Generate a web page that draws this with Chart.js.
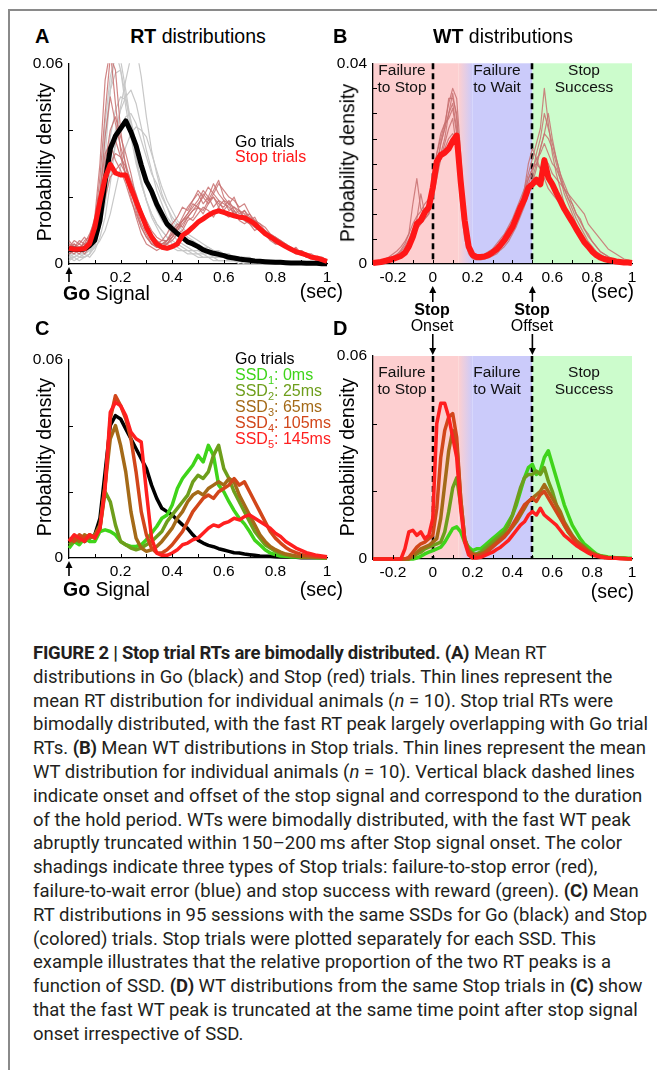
<!DOCTYPE html>
<html lang="en">
<head>
<meta charset="UTF-8">
<title>Figure 2 | Stop trial RTs are bimodally distributed</title>
<script src="https://cdn.jsdelivr.net/npm/chart.js"></script>
<style>
  body { margin: 0; background: #fff; width: 657px; height: 1070px; overflow: hidden; position: relative;
         font-family: "Liberation Sans", Arial, sans-serif; color: #000; }
  .frame-top { position: absolute; left: 8px; top: 9px; width: 649px; height: 2px; background: #8a8a8a; }
  .frame-left { position: absolute; left: 8px; top: 9px; width: 2px; height: 1061px; background: #8a8a8a; }
  canvas { position: absolute; }
  .t { position: absolute; white-space: nowrap; line-height: 1; font-size: 16px; }
  .c { transform: translate(-50%, -50%); text-align: center; }
  .l { transform: translate(0, -50%); }
  .r { transform: translate(-100%, -50%); }
  .v { transform: translate(-50%, -50%) rotate(-90deg); font-size: 19.5px; }
  .bold { font-weight: bold; }
  .zone { font-size: 15.5px; line-height: 17px; color: #111; }
  .stoplbl { font-size: 16px; line-height: 16px; }
  sub { font-size: 11px; line-height: 0; }
  .caption { position: absolute; left: 33px; top: 642px; font-family: Roboto, "Liberation Sans", sans-serif;
             font-size: 18.5px; line-height: 23.8px; color: #231f20; white-space: nowrap; }
  .caption b { font-weight: bold; letter-spacing: -0.25px; }
</style>
</head>
<body>
  <div class="frame-top"></div>
  <div class="frame-left"></div>

  <canvas id="chartA" width="330" height="262" style="left:14px;top:48px"></canvas>
  <canvas id="chartB" width="335" height="258" style="left:318px;top:48px"></canvas>
  <canvas id="chartC" width="330" height="262" style="left:14px;top:344px"></canvas>
  <canvas id="chartD" width="335" height="270" style="left:318px;top:318px"></canvas>

  <!-- panel A -->
  <div class="t l bold" style="left:35px;top:36px;font-size:20px">A</div>
  <div class="t c" style="left:198px;top:37px;font-size:19.5px"><b>RT</b> distributions</div>
  <div class="t v" style="left:45px;top:162px">Probability density</div>
  <div class="t l" style="left:235px;top:142px">Go trials</div>
  <div class="t l" style="left:235px;top:157px;color:#ff1717">Stop trials</div>
  <div class="t l" style="left:63px;top:294px;font-size:19.5px"><b>Go</b> Signal</div>
  <div class="t r" style="left:343px;top:292px;font-size:19.5px">(sec)</div>

  <!-- panel B -->
  <div class="t l bold" style="left:333px;top:36px;font-size:20px">B</div>
  <div class="t c" style="left:503px;top:37px;font-size:19.5px"><b>WT</b> distributions</div>
  <div class="t v" style="left:348px;top:163px">Probability density</div>
  <div class="t c zone" style="left:402px;top:78px">Failure<br>to Stop</div>
  <div class="t c zone" style="left:497px;top:78px">Failure<br>to Wait</div>
  <div class="t c zone" style="left:584px;top:78px">Stop<br>Success</div>
  <div class="t r" style="left:634px;top:292px;font-size:19.5px">(sec)</div>
  <div class="t c stoplbl" style="left:432px;top:318px"><b>Stop</b><br>Onset</div>
  <div class="t c stoplbl" style="left:532px;top:318px"><b>Stop</b><br>Offset</div>

  <!-- panel C -->
  <div class="t l bold" style="left:35px;top:328px;font-size:20px">C</div>
  <div class="t v" style="left:45px;top:457px">Probability density</div>
  <div class="t l" style="left:235px;top:359px">Go trials</div>
  <div class="t l" style="left:235px;top:375px;color:#3fd41a">SSD<sub>1</sub>: 0ms</div>
  <div class="t l" style="left:235px;top:391px;color:#6e9e1c">SSD<sub>2</sub>: 25ms</div>
  <div class="t l" style="left:235px;top:407px;color:#a46a18">SSD<sub>3</sub>: 65ms</div>
  <div class="t l" style="left:235px;top:423px;color:#d2461a">SSD<sub>4</sub>: 105ms</div>
  <div class="t l" style="left:235px;top:439px;color:#ff1f1f">SSD<sub>5</sub>: 145ms</div>
  <div class="t l" style="left:63px;top:590px;font-size:19.5px"><b>Go</b> Signal</div>
  <div class="t r" style="left:343px;top:590px;font-size:19.5px">(sec)</div>

  <!-- panel D -->
  <div class="t l bold" style="left:333px;top:328px;font-size:20px">D</div>
  <div class="t v" style="left:348px;top:457px">Probability density</div>
  <div class="t c zone" style="left:402px;top:380px">Failure<br>to Stop</div>
  <div class="t c zone" style="left:497px;top:380px">Failure<br>to Wait</div>
  <div class="t c zone" style="left:584px;top:380px">Stop<br>Success</div>
  <div class="t r" style="left:634px;top:592px;font-size:19.5px">(sec)</div>

  <div class="caption">
    <b>FIGURE 2 | Stop trial RTs are bimodally distributed. (A)</b> Mean RT<br>
    distributions in Go (black) and Stop (red) trials. Thin lines represent the<br>
    mean RT distribution for individual animals (<i>n</i> = 10). Stop trial RTs were<br>
    bimodally distributed, with the fast RT peak largely overlapping with Go trial<br>
    RTs. <b>(B)</b> Mean WT distributions in Stop trials. Thin lines represent the mean<br>
    WT distribution for individual animals (<i>n</i> = 10). Vertical black dashed lines<br>
    indicate onset and offset of the stop signal and correspond to the duration<br>
    of the hold period. WTs were bimodally distributed, with the fast WT peak<br>
    abruptly truncated within 150–200&#8201;ms after Stop signal onset. The color<br>
    shadings indicate three types of Stop trials: failure-to-stop error (red),<br>
    failure-to-wait error (blue) and stop success with reward (green). <b>(C)</b> Mean<br>
    RT distributions in 95 sessions with the same SSDs for Go (black) and Stop<br>
    (colored) trials. Stop trials were plotted separately for each SSD. This<br>
    example illustrates that the relative proportion of the two RT peaks is a<br>
    function of SSD. <b>(D)</b> WT distributions from the same Stop trials in <b>(C)</b> show<br>
    that the fast WT peak is truncated at the same time point after stop signal<br>
    onset irrespective of SSD.
  </div>

<script>
// time bins (sec). RT = from Go signal, WT = from Stop signal onset
const tRT = [0, 0.02, 0.04, 0.06, 0.08, 0.1, 0.12, 0.14, 0.16, 0.18,
  0.2, 0.22, 0.24, 0.26, 0.28, 0.3, 0.32, 0.34, 0.36, 0.38,
  0.4, 0.42, 0.44, 0.46, 0.48, 0.5, 0.52, 0.54, 0.56, 0.58,
  0.6, 0.62, 0.64, 0.66, 0.68, 0.7, 0.72, 0.74, 0.76, 0.78,
  0.8, 0.82, 0.84, 0.86, 0.88, 0.9, 0.92, 0.94, 0.96, 0.98, 1];
const tWT = [-0.3, -0.28, -0.26, -0.24, -0.22, -0.2, -0.18, -0.16, -0.14, -0.12,
  -0.1, -0.08, -0.06, -0.04, -0.02, 0, 0.02, 0.04, 0.06, 0.08,
  0.1, 0.12, 0.14, 0.16, 0.18, 0.2, 0.22, 0.24, 0.26, 0.28,
  0.3, 0.32, 0.34, 0.36, 0.38, 0.4, 0.42, 0.44, 0.46, 0.48,
  0.5, 0.52, 0.54, 0.56, 0.58, 0.6, 0.62, 0.64, 0.66, 0.68,
  0.7, 0.72, 0.74, 0.76, 0.78, 0.8, 0.82, 0.84, 0.86, 0.88,
  0.9, 0.92, 0.94, 0.96, 0.98, 1];

// probability density, all in units of 1e-3

// A: mean RT, Go and Stop trials
const goMeanA = [4.4, 4.4, 4.3, 4.5, 5.5, 7.1, 13, 24.7, 34.4, 38.3,
  40.5, 42.8, 39.5, 35.4, 29.6, 24.7, 21.8, 17.9, 14.9, 12.0,
  10.5, 9.1, 7.9, 6.6, 6.0, 5.2, 4.2, 3.7, 3.2, 2.9,
  2.5, 2.0, 1.8, 1.5, 1.3, 1.1, 0.9, 0.8, 0.7, 0.6,
  0.5, 0.5, 0.4, 0.3, 0.3, 0.3, 0.2, 0.2, 0.2, 0.1, 0.1];
const stopMeanA = [4.7, 4.4, 4.4, 4.6, 6.1, 11, 18.8, 25.7, 29.8, 27.2,
  26.6, 26.6, 22.7, 18.8, 14.9, 11, 8.1, 6, 5, 4.7,
  5.2, 6, 8.6, 9.6, 11, 12.5, 13.5, 14.6, 15.4, 15.9,
  15.4, 14.9, 14.4, 14, 13.8, 13, 12, 10.5, 9.1, 8.1,
  7.1, 6.1, 5.2, 4.4, 3.7, 3.2, 2.7, 2.0, 1.8, 1.3, 0.8];

// A: individual animals, Go trials
const goAnimal1 = [3, 2, 3, 2, 3, 6, 15, 32, 52, 64, 58, 47, 38, 30, 24, 19, 15, 12, 10, 8,
  7, 6, 5, 4, 4, 3, 3, 2, 2, 2, 2, 1, 1, 1, 1, 1, 1, 0, 1, 0, 0, 0, 0, 0, 0, 0, 0, 0, 0, 0, 0];
const goAnimal2 = [2, 2, 3, 3, 2, 4, 8, 14, 24, 36, 47, 55, 62, 65, 56, 44, 34, 27, 21, 17,
  13, 11, 9, 7, 6, 5, 4, 4, 3, 3, 2, 2, 2, 1, 1, 1, 1, 1, 1, 0, 0, 0, 0, 0, 0, 0, 0, 0, 0, 0, 0];
const goAnimal3 = [1, 2, 1, 2, 3, 5, 12, 24, 38, 46, 50, 49, 43, 36, 30, 25, 20, 16, 13, 11,
  9, 7, 6, 5, 4, 4, 3, 3, 2, 2, 2, 2, 1, 1, 1, 1, 0, 1, 0, 0, 0, 0, 0, 0, 0, 0, 0, 0, 0, 0, 0];
const goAnimal4 = [3, 4, 3, 4, 5, 7, 11, 18, 28, 36, 41, 44, 45, 42, 37, 32, 27, 24, 20, 17,
  14, 12, 10, 8, 7, 6, 5, 5, 4, 3, 3, 3, 2, 2, 2, 1, 1, 1, 1, 1, 1, 0, 0, 0, 0, 0, 0, 0, 0, 0, 0];
const goAnimal5 = [2, 1, 2, 2, 3, 8, 20, 38, 52, 57, 58, 50, 40, 31, 24, 19, 15, 12, 10, 8,
  6, 5, 4, 4, 3, 3, 2, 2, 2, 1, 1, 1, 1, 1, 0, 0, 0, 0, 0, 0, 0, 0, 0, 0, 0, 0, 0, 0, 0, 0, 0];
const goAnimal6 = [4, 5, 4, 5, 4, 5, 7, 10, 15, 22, 29, 35, 39, 41, 40, 38, 33, 28, 23, 19,
  16, 13, 11, 9, 8, 7, 6, 5, 4, 4, 3, 3, 2, 2, 2, 2, 1, 1, 1, 1, 1, 1, 0, 0, 0, 0, 0, 0, 0, 0, 0];
const goAnimal7 = [2, 3, 2, 3, 4, 9, 22, 42, 56, 62, 61, 52, 42, 32, 25, 19, 14, 11, 8, 6,
  5, 4, 4, 3, 3, 2, 2, 2, 1, 1, 1, 1, 1, 0, 0, 0, 0, 0, 0, 0, 0, 0, 0, 0, 0, 0, 0, 0, 0, 0, 0];
const goAnimal8 = [3, 3, 4, 3, 4, 6, 11, 20, 31, 40, 46, 50, 52, 48, 41, 34, 28, 22, 18, 14,
  12, 10, 8, 7, 6, 5, 4, 4, 3, 3, 2, 2, 2, 1, 1, 1, 1, 1, 0, 0, 0, 0, 0, 0, 0, 0, 0, 0, 0, 0, 0];

// A: individual animals, Stop trials
const stopAnimal1 = [5, 6, 4, 7, 8, 14, 30, 55, 64, 48, 34, 26, 20, 14, 9, 6, 5, 4, 5, 7,
  9, 11, 13, 14, 16, 17, 15, 18, 20, 17, 19, 16, 17, 15, 16, 14, 13, 12, 10, 9, 8, 7, 6, 5, 4, 4, 3, 3, 2, 2, 1];
const stopAnimal2 = [3, 4, 5, 3, 5, 9, 18, 30, 40, 44, 38, 33, 27, 20, 14, 10, 7, 5, 5, 6,
  8, 10, 13, 15, 17, 19, 22, 20, 24, 21, 19, 18, 20, 16, 15, 13, 14, 11, 10, 8, 7, 6, 5, 5, 4, 3, 3, 2, 2, 1, 1];
const stopAnimal3 = [6, 5, 7, 6, 9, 13, 22, 33, 36, 31, 28, 24, 19, 15, 11, 8, 6, 6, 7, 9,
  12, 14, 17, 16, 19, 21, 18, 20, 17, 19, 16, 18, 15, 16, 13, 12, 11, 10, 9, 8, 7, 6, 6, 4, 5, 3, 3, 2, 2, 2, 1];
const stopAnimal4 = [4, 6, 5, 6, 7, 10, 16, 24, 30, 33, 32, 29, 25, 21, 16, 12, 9, 7, 6, 6,
  7, 9, 10, 13, 14, 17, 16, 19, 22, 25, 20, 18, 17, 16, 14, 15, 12, 11, 9, 8, 8, 6, 5, 5, 4, 4, 3, 2, 2, 1, 1];
const stopAnimal5 = [7, 5, 6, 8, 6, 12, 26, 45, 62, 58, 40, 29, 22, 16, 11, 8, 6, 5, 6, 7,
  10, 12, 11, 14, 13, 15, 17, 16, 14, 17, 15, 14, 16, 13, 12, 13, 11, 10, 9, 7, 6, 6, 5, 4, 3, 3, 2, 2, 1, 1, 1];
const stopAnimal6 = [3, 4, 3, 5, 6, 8, 14, 20, 26, 28, 30, 27, 24, 20, 16, 13, 10, 8, 7, 7,
  8, 10, 12, 14, 16, 18, 20, 23, 21, 24, 22, 20, 19, 17, 18, 15, 13, 12, 11, 9, 8, 7, 6, 5, 4, 4, 3, 2, 2, 2, 1];
const stopAnimal7 = [5, 7, 6, 5, 8, 12, 20, 38, 50, 42, 35, 30, 24, 17, 12, 9, 6, 5, 5, 6,
  8, 11, 14, 17, 19, 22, 20, 18, 21, 19, 18, 17, 15, 14, 16, 13, 12, 10, 9, 8, 7, 6, 5, 4, 4, 3, 2, 2, 2, 1, 1];
const stopAnimal8 = [4, 3, 5, 6, 5, 9, 16, 27, 34, 37, 32, 27, 22, 18, 14, 11, 8, 6, 6, 7,
  9, 11, 13, 15, 18, 17, 21, 19, 20, 18, 17, 19, 16, 14, 13, 12, 10, 11, 9, 8, 6, 6, 5, 4, 3, 3, 3, 2, 1, 1, 1];

// B: mean WT, Stop trials
const stopMeanB = [0.2, 0.3, 0.4, 0.6, 0.8, 1.0, 1.3, 1.6, 2.2, 3.5,
  5.4, 8.0, 8.7, 10.3, 11.3, 15.2, 20.4, 21.7, 22.2, 23.0,
  24.5, 25.6, 16.5, 8.7, 3.5, 1.8, 1.4, 1.4, 1.5, 1.8,
  2.3, 2.9, 3.8, 4.8, 6.1, 7.4, 9.3, 11.3, 12.9, 15.2,
  15.9, 16.8, 15.9, 20.7, 17.2, 15.9, 14.2, 12.6, 11.0, 9.7,
  8.4, 7.0, 5.7, 4.4, 3.5, 2.5, 1.8, 1.3, 1.0, 0.8,
  0.7, 0.5, 0.4, 0.3, 0.3, 0.2];

// B: individual animals
const wtAnimal1 = [0, 0, 0.2, 0.3, 0.5, 0.7, 1, 1.3, 1.8, 3,
  5, 9, 14, 10, 11, 14, 19, 24, 27, 30,
  34, 29, 16, 7, 3, 1.5, 1, 1, 1.2, 1.5,
  2, 2.5, 3.2, 4, 5, 6.5, 8, 10, 12, 14,
  17, 20, 23, 26, 30, 25, 21, 18, 15, 13,
  11, 9, 7.5, 6, 4.5, 3.5, 2.5, 2, 1.5, 1,
  0.8, 0.5, 0.4, 0.3, 0.2, 0.2];
const wtAnimal2 = [0.3, 0.2, 0.5, 0.8, 1, 1.5, 2, 2.5, 3.5, 5,
  7, 8, 9, 10, 12, 17, 22, 25, 28, 32,
  35, 33, 22, 10, 4, 2, 1.5, 1.5, 2, 2.5,
  3, 4, 5, 6, 7.5, 9, 11, 13, 15, 18,
  21, 24, 27, 35, 28, 22, 18, 15, 12, 10,
  8, 7, 5.5, 4.5, 3.5, 2.5, 2, 1.5, 1, 1,
  0.8, 0.6, 0.5, 0.4, 0.3, 0.3];
const wtAnimal3 = [0, 0.2, 0.2, 0.4, 0.6, 0.8, 1.2, 1.6, 2.5, 4,
  6, 7, 8, 9, 10, 15, 18, 21, 23, 25,
  26, 24, 18, 9, 4, 1.5, 1, 1, 1.3, 1.8,
  2.5, 3, 4, 5, 6, 7.5, 9, 11, 14, 17,
  19, 21, 22, 24, 22, 20, 19, 17, 15, 13,
  12, 10, 9, 7, 6, 4.5, 3.5, 2.5, 2, 1.5,
  1, 0.8, 0.6, 0.5, 0.4, 0.3];
const wtAnimal4 = [0.2, 0.4, 0.3, 0.6, 0.9, 1.2, 1.7, 2.2, 3, 4.5,
  6.5, 7.5, 9, 11, 12, 16, 22, 26, 28, 29,
  31, 26, 12, 5, 2, 1, 0.8, 0.8, 1, 1.2,
  1.6, 2, 2.8, 3.5, 4.5, 6, 7.5, 9.5, 11.5, 14,
  16, 19, 23, 26, 25, 23, 20, 17, 14, 12,
  10, 8, 6.5, 5, 4, 3, 2.3, 1.7, 1.2, 0.9,
  0.7, 0.5, 0.4, 0.3, 0.2, 0.2];
const wtAnimal5 = [0.4, 0.6, 0.8, 1, 1.4, 2, 2.6, 3.4, 4.5, 6,
  8, 9.5, 10.5, 12, 13, 16, 20, 24, 27, 33,
  33, 30, 20, 9, 4, 2, 1.5, 1.4, 1.6, 2,
  2.5, 3.2, 4, 5, 6.5, 8, 10, 12, 14.5, 17,
  19, 20, 19, 21, 20, 18, 17, 16, 15, 14,
  13, 12, 11, 10, 8, 7, 6, 5, 4, 3,
  2.5, 2, 1.5, 1, 0.8, 0.6];
const wtAnimal6 = [0, 0.1, 0.3, 0.5, 0.7, 1, 1.4, 1.9, 2.6, 3.8,
  5.5, 7, 8, 9, 10, 13, 17, 21, 24, 27,
  29, 23, 13, 6, 2.5, 1.2, 1, 1, 1.3, 1.7,
  2.2, 3, 3.8, 4.8, 6, 7.5, 9.5, 12, 15, 20,
  23, 21, 19, 17, 15, 14, 13, 12, 11, 9.5,
  8, 6.5, 5, 4, 3, 2.2, 1.6, 1.2, 0.9, 0.6,
  0.5, 0.4, 0.3, 0.2, 0.2, 0.1];
const wtAnimal7 = [0.3, 0.5, 0.4, 0.7, 0.9, 1.3, 1.8, 2.8, 4, 6,
  12, 17, 11, 10, 11, 14, 18, 22, 25, 30,
  32, 27, 15, 7, 3, 1.4, 1, 1.1, 1.4, 1.8,
  2.4, 3, 3.8, 4.8, 6, 7.5, 9, 11, 13, 16,
  18, 22, 25, 30, 27, 24, 21, 18, 16, 14,
  12, 10, 8.5, 7, 5.5, 4.5, 3.5, 2.5, 2, 1.5,
  1.1, 0.8, 0.6, 0.5, 0.4, 0.3];

// C: mean RT in 95 sessions, Go and Stop by SSD
const goMeanC = [5, 5, 5.5, 5, 6, 7, 12, 26, 40, 43,
  42, 39, 36, 33, 30, 27, 22, 18, 15, 14,
  13, 11.5, 10, 8.9, 7, 5.4, 4.5, 3.8, 3.4, 2.8,
  2.4, 2, 1.6, 1.5, 1.2, 1, 0.8, 0.6, 0.5, 0.5,
  0.4, 0.3, 0.3, 0.2, 0.2, 0.1, 0.1, 0.1, 0.1, 0.1, 0.1];
const rtSsd1 = [3, 5, 4, 6, 5, 5, 8, 8.5, 8, 7,
  5, 4, 3.5, 3.5, 4, 5.5, 7.5, 9.5, 12, 13,
  16, 21, 24, 26, 28, 31, 29, 34, 31, 22,
  20, 17, 14.3, 12, 10.3, 8, 5.4, 4, 2.5, 1.5,
  1, 0.6, 0.5, 0.3, 0.3, 0.2, 0.2, 0.2, 0.1, 0.1, 0.1];
const rtSsd2 = [4, 5, 6, 5, 7, 6, 9, 20, 17, 10,
  5, 4, 3, 2.5, 3, 4, 5, 6.5, 8, 11,
  13, 15, 17, 19, 23, 25, 24, 26, 31, 34,
  27, 24, 20, 17, 14, 11, 8, 6, 4, 3,
  2, 1.3, 0.9, 0.6, 0.5, 0.4, 0.3, 0.2, 0.2, 0.1, 0.1];
const rtSsd3 = [5, 6, 5, 7, 6, 7, 10, 22, 36, 40,
  34, 26, 14, 6, 3, 2, 2.5, 3.5, 5, 7,
  9, 12, 14, 17, 19, 20, 19, 21, 22, 23,
  22, 24, 23, 19, 16, 13, 10, 7, 5, 3.5,
  2.5, 1.8, 1.2, 0.9, 0.6, 0.4, 0.3, 0.3, 0.2, 0.2, 0.1];
const rtSsd4 = [6, 5, 7, 6, 7, 6, 9, 22, 42, 49,
  46, 42, 36, 26, 14, 7, 3, 1.5, 1.5, 2.5,
  4, 6, 8, 11, 14, 16, 18, 19, 18, 20,
  21, 22, 24, 22, 23, 20, 17, 14, 11, 8,
  6, 4.5, 3.2, 2.2, 1.6, 1.1, 0.8, 0.6, 0.4, 0.3, 0.2];
const rtSsd5 = [5, 7, 6, 5, 7, 6, 9, 21, 44, 47,
  46, 43, 38, 36, 35, 20, 6, 1.5, 0.8, 0.8,
  1.5, 2.5, 4, 4.5, 5.5, 6, 7.5, 9, 10, 9.5,
  10.5, 11, 12, 11.5, 12.5, 13, 12, 11, 10, 9,
  7.5, 6.5, 5, 4, 3, 2.3, 1.6, 1.2, 0.8, 0.6, 0.4];

// D: WT for the same Stop trials, by SSD
const wtSsd1 = [0, 0, 0, 0, 0, 0, 0, 0, 0, 0,
  0, 0.3, 0.8, 1.5, 2, 2.5, 3, 3.5, 5, 7,
  9, 9.5, 8, 5, 3.5, 2.5, 3, 3, 4, 5,
  6, 7, 8, 9, 11, 13, 16, 20, 24, 27,
  28, 25, 26, 30, 32, 28, 24, 20, 16, 13,
  10, 8, 6, 4.5, 3.5, 2.5, 1.5, 1, 0.8, 0.6,
  0.5, 0.4, 0.3, 0.3, 0.2, 0.2];
const wtSsd2 = [0, 0, 0, 0, 0, 0, 0, 0, 0, 0,
  0.5, 1.5, 2, 3, 3.5, 4, 4.5, 5, 8, 14,
  21, 24, 16, 6, 3, 1.5, 1.5, 2, 3, 4,
  5, 6, 7, 8, 10, 13, 17, 21, 24, 25,
  25, 26, 25, 27, 23, 20, 16, 13, 10, 8,
  6.5, 5, 4, 3, 2.2, 1.6, 1.2, 0.8, 0.6, 0.4,
  0.3, 0.3, 0.2, 0.2, 0.1, 0.1];
const wtSsd3 = [0, 0, 0, 0, 0, 0, 0, 0, 0, 0,
  1, 2, 3, 3.5, 4, 5, 6, 12, 22, 32,
  38, 34, 18, 6, 2.5, 1.5, 1.3, 1.5, 2, 3,
  4, 5, 6, 7, 8, 9.5, 11, 13, 15, 17,
  18, 19, 20, 22, 20, 18, 16, 14, 11, 9,
  7, 5.5, 4.5, 3.5, 2.5, 1.8, 1.3, 0.9, 0.6, 0.4,
  0.3, 0.3, 0.2, 0.2, 0.1, 0.1];
const wtSsd4 = [0, 0, 0, 0, 0, 0, 0, 0, 0, 0.5,
  2, 3.5, 4.5, 5, 6, 7, 15, 30, 38, 42,
  43, 36, 18, 6, 2, 1.2, 1, 1.2, 1.7, 2.5,
  3.5, 4.5, 5.5, 6.5, 8, 10, 12, 14, 16, 17,
  18, 17, 19, 20, 18, 16, 14, 12, 10, 8,
  6.5, 5, 4, 3, 2.2, 1.6, 1.1, 0.8, 0.6, 0.4,
  0.3, 0.2, 0.2, 0.1, 0.1, 0.1];
const wtSsd5 = [0, 0, 0, 0, 0, 0, 0, 0, 3, 8,
  8.5, 7, 8, 6, 7, 12, 40, 46, 46, 42,
  36, 30, 15, 5, 1.2, 0.3, 0.3, 0.5, 1, 1.5,
  2, 2.8, 3.5, 4.5, 5.5, 7, 8.5, 10, 11, 13,
  14, 13, 15, 13, 12, 11, 10, 8.5, 7, 6,
  5, 4, 3.2, 2.5, 1.8, 1.2, 0.9, 0.6, 0.4, 0.3,
  0.2, 0.2, 0.1, 0.1, 0.1, 0.1];

// tick values
const xLabelsRT = [0.2, 0.4, 0.6, 0.8, 1];
const xLabelsWT = [-0.2, 0, 0.2, 0.4, 0.6, 0.8, 1];
const xMinorRT = [0.1, 0.2, 0.3, 0.4, 0.5, 0.6, 0.7, 0.8, 0.9];
const xMinorWT = [-0.2, -0.1, 0, 0.1, 0.2, 0.3, 0.4, 0.5, 0.6, 0.7, 0.8, 0.9];
const yLabels06 = [0, 0.06];
const yLabels04 = [0, 0.04];
const yMinor06 = [0.02, 0.04];
const yMinor04 = [0.005, 0.01, 0.015, 0.02, 0.025, 0.03, 0.035];

// stop-signal events and trial-type shading (sec, WT axis)
const stopEvents = [0, 0.5];
const zoneEdges = [0.13, 0.2, 0.5];
const zoneColors = ['#fdcfd0', '#cbcbfa', '#ccfccc'];

const ssdColors = ['#3fd41a', '#6e9e1c', '#a46a18', '#d2461a', '#ff1f1f'];
const RED = '#ff1717';

Chart.defaults.font.family = '"Liberation Sans", Arial, sans-serif';
Chart.defaults.color = '#000';

function line(xs, ys, color, width) {
  return {
    data: xs.map((x, i) => ({ x: x, y: ys[i] / 1000 })),
    borderColor: color,
    borderWidth: width,
    pointRadius: 0,
    tension: 0,
    fill: false,
    borderJoinStyle: 'round',
    clip: { left: 3, top: 0, right: 3, bottom: 4 }
  };
}

function arrow(ctx, x, yTail, yHead) {
  const dir = yHead > yTail ? 1 : -1;
  ctx.beginPath();
  ctx.moveTo(x, yTail);
  ctx.lineTo(x, yHead - dir * 5);
  ctx.stroke();
  ctx.beginPath();
  ctx.moveTo(x, yHead);
  ctx.lineTo(x - 3.5, yHead - dir * 7);
  ctx.lineTo(x + 3.5, yHead - dir * 7);
  ctx.closePath();
  ctx.fill();
}

// shading, dashed event lines, inward tick marks and arrows
function decor(spec) {
  return {
    id: 'decor',
    beforeDraw(chart) {
      if (!spec.zones) return;
      const { ctx, chartArea: a, scales: { x } } = chart;
      const p1 = x.getPixelForValue(zoneEdges[0]);
      const p2 = x.getPixelForValue(zoneEdges[1]);
      const p3 = x.getPixelForValue(zoneEdges[2]);
      ctx.save();
      ctx.fillStyle = zoneColors[0];
      ctx.fillRect(a.left, a.top, p1 - a.left, a.height);
      const g = ctx.createLinearGradient(p1, 0, p2, 0);
      g.addColorStop(0, zoneColors[0]);
      g.addColorStop(1, zoneColors[1]);
      ctx.fillStyle = g;
      ctx.fillRect(p1, a.top, p2 - p1, a.height);
      ctx.fillStyle = zoneColors[1];
      ctx.fillRect(p2, a.top, p3 - p2, a.height);
      ctx.fillStyle = zoneColors[2];
      ctx.fillRect(p3, a.top, a.right - p3, a.height);
      ctx.restore();
    },
    beforeDatasetsDraw(chart) {
      if (!spec.zones) return;
      const { ctx, chartArea: a, scales: { x } } = chart;
      ctx.save();
      ctx.strokeStyle = '#000';
      ctx.lineWidth = 2.6;
      ctx.setLineDash([6, 4]);
      stopEvents.forEach(v => {
        const px = Math.round(x.getPixelForValue(v));
        ctx.beginPath();
        ctx.moveTo(px, a.top);
        ctx.lineTo(px, a.bottom);
        ctx.stroke();
      });
      ctx.restore();
    },
    afterDraw(chart) {
      const { ctx, chartArea: a, scales: { x, y } } = chart;
      ctx.save();
      ctx.strokeStyle = '#000';
      ctx.fillStyle = '#000';
      ctx.lineWidth = 1;
      spec.yMinor.forEach(v => {
        const py = Math.round(y.getPixelForValue(v)) + 0.5;
        ctx.beginPath();
        ctx.moveTo(a.left, py);
        ctx.lineTo(a.left + 4, py);
        ctx.stroke();
      });
      spec.xMinor.forEach(v => {
        const px = Math.round(x.getPixelForValue(v)) + 0.5;
        ctx.beginPath();
        ctx.moveTo(px, a.bottom);
        ctx.lineTo(px, a.bottom - 4);
        ctx.stroke();
      });
      ctx.lineWidth = 1.6;
      (spec.arrowsUp || []).forEach(v => {
        const px = x.getPixelForValue(v);
        arrow(ctx, px, a.bottom + spec.arrowTail, a.bottom + spec.arrowHead);
      });
      (spec.arrowsDown || []).forEach(v => {
        const px = x.getPixelForValue(v);
        arrow(ctx, px, a.top - 22, a.top - 1);
      });
      ctx.restore();
    }
  };
}

function options(spec) {
  return {
    responsive: false,
    animation: false,
    events: [],
    layout: { padding: { top: spec.padTop, right: spec.padRight, left: 0, bottom: 0 } },
    plugins: { legend: { display: false }, tooltip: { enabled: false } },
    scales: {
      x: {
        type: 'linear',
        min: spec.xMin,
        max: 1,
        afterBuildTicks: s => { s.ticks = spec.xLabels.map(v => ({ value: v })); },
        afterFit: s => { s.height = spec.xHeight; },
        ticks: { padding: 4, font: { size: 15.5 }, maxRotation: 0, autoSkip: false, callback: v => String(v) },
        grid: { display: false, drawTicks: false },
        border: { color: '#000', width: 1.3 }
      },
      y: {
        min: 0,
        max: spec.yMax,
        afterBuildTicks: s => { s.ticks = spec.yLabels.map(v => ({ value: v })); },
        afterFit: s => { s.width = 55; },
        ticks: { padding: 6, font: { size: 15.5 }, callback: v => String(v) },
        grid: { display: false, drawTicks: false },
        border: { color: '#000', width: 1.3 }
      }
    }
  };
}

function build(id, datasets, spec) {
  // first dataset is drawn on top in Chart.js, so reverse the bottom-to-top list
  return new Chart(document.getElementById(id), {
    type: 'line',
    data: { datasets: datasets.slice().reverse() },
    options: options(spec),
    plugins: [decor(spec)]
  });
}

const GREY = 'rgb(200,200,200)';
const ROSE = 'rgba(200,112,112,0.85)';

// A
build('chartA', [
  ...[goAnimal1, goAnimal2, goAnimal3, goAnimal4, goAnimal5, goAnimal6, goAnimal7, goAnimal8]
    .map(ys => line(tRT, ys, GREY, 1.2)),
  ...[stopAnimal1, stopAnimal2, stopAnimal3, stopAnimal4, stopAnimal5, stopAnimal6, stopAnimal7, stopAnimal8]
    .map(ys => line(tRT, ys, ROSE, 1.2)),
  line(tRT, goMeanA, '#000', 5),
  line(tRT, stopMeanA, RED, 5)
], { padTop: 11, padRight: 17, xHeight: 46, xMin: 0, xLabels: xLabelsRT, xMinor: xMinorRT,
     yMax: 0.06, yLabels: yLabels06, yMinor: yMinor06, arrowsUp: [0], arrowTail: 18, arrowHead: 3 });

// B
build('chartB', [
  ...[wtAnimal1, wtAnimal2, wtAnimal3, wtAnimal4, wtAnimal5, wtAnimal6, wtAnimal7]
    .map(ys => line(tWT, ys, ROSE, 1.2)),
  line(tWT, stopMeanB, RED, 6)
], { padTop: 12, padRight: 21, xHeight: 42, xMin: -0.3, xLabels: xLabelsWT, xMinor: xMinorWT,
     yMax: 0.04, yLabels: yLabels04, yMinor: yMinor04, zones: true,
     arrowsUp: stopEvents, arrowTail: 38, arrowHead: 22 });

// C
build('chartC', [
  line(tRT, goMeanC, '#000', 3.5),
  ...[rtSsd1, rtSsd2, rtSsd3, rtSsd4, rtSsd5].map((ys, i) => line(tRT, ys, ssdColors[i], 3.5))
], { padTop: 11, padRight: 17, xHeight: 48, xMin: 0, xLabels: xLabelsRT, xMinor: xMinorRT,
     yMax: 0.06, yLabels: yLabels06, yMinor: yMinor06, arrowsUp: [0], arrowTail: 18, arrowHead: 3 });

// D
build('chartD', [
  ...[wtSsd1, wtSsd2, wtSsd3, wtSsd4, wtSsd5].map((ys, i) => line(tWT, ys, ssdColors[i], 3.5))
], { padTop: 38, padRight: 21, xHeight: 29, xMin: -0.3, xLabels: xLabelsWT, xMinor: xMinorWT,
     yMax: 0.06, yLabels: yLabels06, yMinor: yMinor06, zones: true, arrowsDown: stopEvents });
</script>
</body>
</html>
